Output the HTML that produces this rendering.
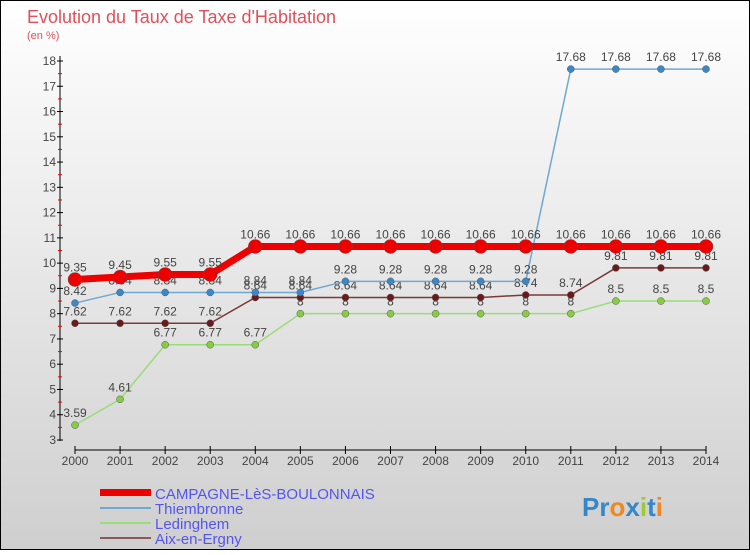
<!DOCTYPE html>
<html><head><meta charset="utf-8"><style>
body{margin:0;width:750px;height:550px;overflow:hidden;font-family:"Liberation Sans",sans-serif}
</style></head><body>
<svg id="c" width="750" height="550" xmlns="http://www.w3.org/2000/svg">
<defs><linearGradient id="bg" x1="0" y1="0" x2="0" y2="1"><stop offset="0" stop-color="#ffffff"/><stop offset="1" stop-color="#cfcfcf"/></linearGradient></defs>
<rect x="0.5" y="0.5" width="749" height="549" fill="url(#bg)" stroke="#000"/>
<text x="27" y="23" font-size="18" fill="#e0505a">Evolution du Taux de Taxe d'Habitation</text>
<text x="27" y="39" font-size="11" fill="#e0505a">(en %)</text>
<g id="axes"></g><g id="series"></g>
<g>
<rect x="100" y="489" width="51" height="7" fill="#e00"/>
<text x="155" y="499" font-size="15" fill="#5555ee">CAMPAGNE-LèS-BOULONNAIS</text>
<line x1="100" y1="508" x2="151" y2="508" stroke="#6fa8d0" stroke-width="2"/>
<text x="155" y="514" font-size="15" fill="#5555ee">Thiembronne</text>
<line x1="100" y1="523" x2="151" y2="523" stroke="#99dd77" stroke-width="2"/>
<text x="155" y="529" font-size="15" fill="#5555ee">Ledinghem</text>
<line x1="100" y1="538" x2="151" y2="538" stroke="#8a5a5a" stroke-width="2"/>
<text x="155" y="544" font-size="15" fill="#5555ee">Aix-en-Ergny</text>
</g>
<g font-size="26" font-weight="bold">
<text x="582" y="516"><tspan fill="#3388cc">Pr</tspan><tspan fill="#ee8822">o</tspan><tspan fill="#3388cc">x</tspan><tspan fill="#99cc33">i</tspan><tspan fill="#3388cc">t</tspan><tspan fill="#ee8822">i</tspan></text>
</g>
</svg>
<script>
const years=[2000,2001,2002,2003,2004,2005,2006,2007,2008,2009,2010,2011,2012,2013,2014];
const campagne=[9.35,9.45,9.55,9.55,10.66,10.66,10.66,10.66,10.66,10.66,10.66,10.66,10.66,10.66,10.66];
const thiembronne=[8.42,8.84,8.84,8.84,8.84,8.84,9.28,9.28,9.28,9.28,9.28,17.68,17.68,17.68,17.68];
const ledinghem=[3.59,4.61,6.77,6.77,6.77,8,8,8,8,8,8,8,8.5,8.5,8.5];
const aix=[7.62,7.62,7.62,7.62,8.64,8.64,8.64,8.64,8.64,8.64,8.74,8.74,9.81,9.81,9.81];
const yTicks=[3,4,5,6,7,8,9,10,11,12,13,14,15,16,17,18];
const NS="http://www.w3.org/2000/svg";
const xS=i=>75+i*(706-75)/(years.length-1);
const yS=v=>440-(v-3)*(440-61)/15;
function mk(t,a,p){const e=document.createElementNS(NS,t);for(const k in a)e.setAttribute(k,a[k]);p.appendChild(e);return e;}
const ax=document.getElementById('axes');
const yl=mk('line',{x1:60,y1:56,x2:60,y2:441,stroke:'#000'},ax);


yTicks.forEach(v=>{
 mk('line',{x1:57,x2:63,y1:yS(v),y2:yS(v),stroke:'#000'},ax);
 if(v<18)mk('line',{x1:58,x2:62,y1:yS(v+0.5),y2:yS(v+0.5),stroke:'#e00'},ax);
 const t=mk('text',{x:56,y:yS(v)+4,'text-anchor':'end','font-size':12,fill:'#444'},ax);t.textContent=v;
 
 
});
const xl=mk('line',{x1:xS(0),y1:450,x2:xS(14),y2:450,stroke:'#000'},ax);


years.forEach((y,i)=>{
 mk('line',{x1:xS(i),x2:xS(i),y1:446,y2:454,stroke:'#000'},ax);
 const t=mk('text',{x:xS(i),y:465,'text-anchor':'middle','font-size':12,fill:'#444'},ax);t.textContent=y;
 
 
});
const sg=document.getElementById('series');
function draw(data,name,col,w,r,dot){
 const g=mk('g',{},sg);
 
 
 mk('polyline',{points:data.map((v,i)=>xS(i)+','+yS(v)).join(' '),fill:'none',stroke:col,'stroke-width':w},g);
 data.forEach((v,i)=>{
  const c=mk('circle',{cx:xS(i),cy:yS(v),r:r,fill:dot,stroke:'#555','stroke-width':0.5},g);
  
  
  const t=mk('text',{x:xS(i),y:yS(v)-8,'text-anchor':'middle','font-size':12,fill:'#444'},g);t.textContent=v;
  
  
 });
}
draw(ledinghem,'ledinghem','#99dd77',1.5,3.5,'#88cc44');
draw(aix,'aix-en-ergny','#7a3a3a',1.5,3.5,'#6a1a1a');
draw(thiembronne,'thiembronne','#6fa8d0',1.5,3.5,'#3a88c8');
draw(campagne,'campagne','#ee0000',7,7,'#ee0000');
</script>
</body></html>
